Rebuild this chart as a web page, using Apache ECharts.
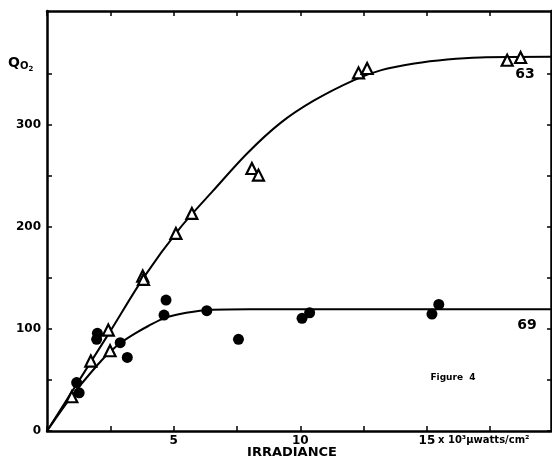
<!DOCTYPE html>
<html>
<head>
<meta charset="utf-8">
<script src="https://cdn.jsdelivr.net/npm/echarts@6/dist/echarts.min.js"></script>
<style>html,body{margin:0;padding:0;background:#fff}#c{width:552px;height:461px}</style>
</head>
<body>
<div id="c"></div>
<script>
// Series 63 (triangles)
var triX = [0.98, 1.73, 2.42, 2.49, 3.78, 3.81, 5.09, 5.72, 8.09, 8.35, 12.3, 12.64, 18.17, 18.7];
var triY = [33.6, 68.6, 99, 78.7, 152, 148.7, 193.8, 213.4, 257.5, 251, 351.3, 355.6, 363.7, 366.4];
// Series 69 (filled circles)
var dotX = [1.17, 1.27, 1.96, 1.99, 2.89, 3.17, 4.62, 4.70, 6.31, 7.56, 10.07, 10.37, 15.2, 15.47];
var dotY = [47.5, 37.5, 89.9, 95.8, 86.6, 72.2, 113.7, 128.4, 118, 89.9, 110.5, 116, 114.7, 124.2];
// Fitted curves
var curve63X = [0, 2.5, 3.8, 5.25, 6.57, 7.89, 9.21, 10.53, 12.1, 13.2, 14.5, 15.8, 17.1, 19.9];
var curve63Y = [0, 98, 150, 199, 236, 272, 302, 324, 344, 354, 360.5, 364.5, 366.5, 367];
var curve69X = [0, 1.0, 2.0, 2.5, 3.0, 3.5, 4.0, 4.66, 5.5, 6.5, 8.0, 19.9];
var curve69Y = [0, 35, 65, 78, 88, 96, 103, 111, 116, 119, 119.5, 119.5];
// Axis ticks and labels
var xTicks = [0, 2.5, 5, 7.5, 10, 12.5, 15, 17.5];
var xLabels = [5, 10, 15];
var yTicks = [0, 50, 100, 150, 200, 250, 300, 350];
var yLabels = [0, 100, 200, 300];

function pairs(xs, ys) { return xs.map(function (x, i) { return [x, ys[i]]; }); }

var FONT = 'DejaVu Sans';
var chart = echarts.init(document.getElementById('c'), null, {renderer: 'canvas'});
var axisLine = {show: true, onZero: false, lineStyle: {color: '#000', width: 2.5}};
chart.setOption({
  backgroundColor: '#fff',
  animation: false,
  grid: {left: 47, right: 1, top: 11, bottom: 30},
  xAxis: [{
    type: 'value', min: 0, max: 19.9, position: 'bottom',
    axisLine: axisLine,
    axisTick: {show: true, inside: true, length: 5, customValues: xTicks, lineStyle: {color: '#000', width: 1.5}},
    axisLabel: {customValues: xLabels, color: '#000', fontFamily: FONT, fontWeight: 'bold', fontSize: 12, margin: 4},
    splitLine: {show: false}
  }, {
    type: 'value', min: 0, max: 19.9, position: 'top',
    axisLine: axisLine,
    axisTick: {show: true, inside: true, length: 5, customValues: xTicks, lineStyle: {color: '#000', width: 1.5}},
    axisLabel: {show: false},
    splitLine: {show: false}
  }],
  yAxis: [{
    type: 'value', min: 0, max: 412, position: 'left',
    axisLine: axisLine,
    axisTick: {show: true, inside: true, length: 5, customValues: yTicks, lineStyle: {color: '#000', width: 1.5}},
    axisLabel: {customValues: yLabels, color: '#000', fontFamily: FONT, fontWeight: 'bold', fontSize: 12, margin: 6},
    splitLine: {show: false}
  }, {
    type: 'value', min: 0, max: 412, position: 'right',
    axisLine: axisLine,
    axisTick: {show: true, inside: true, length: 4, customValues: yTicks, lineStyle: {color: '#000', width: 1.5}},
    axisLabel: {show: false},
    splitLine: {show: false}
  }],
  series: [{
    name: '63 curve', type: 'line', smooth: 0.3, showSymbol: false,
    lineStyle: {color: '#000', width: 2}, data: pairs(curve63X, curve63Y), z: 2
  }, {
    name: '69 curve', type: 'line', smooth: 0.3, showSymbol: false,
    lineStyle: {color: '#000', width: 2}, data: pairs(curve69X, curve69Y), z: 2
  }, {
    name: '63', type: 'scatter', symbol: 'triangle', symbolSize: 11,
    itemStyle: {color: '#fff', borderColor: '#000', borderWidth: 2.2, opacity: 1},
    data: pairs(triX, triY), z: 3
  }, {
    name: '69', type: 'scatter', symbol: 'circle', symbolSize: 11,
    itemStyle: {color: '#000', opacity: 1},
    data: pairs(dotX, dotY), z: 3
  }],
  graphic: [
    {type: 'text', left: 8, top: 56, style: {
      text: '{q|Q}{o|O}{t|2}', rich: {
        q: {fontFamily: FONT, fontWeight: 'bold', fontSize: 14, fill: '#000'},
        o: {fontFamily: FONT, fontWeight: 'bold', fontSize: 10, fill: '#000', padding: [6, 0, 0, 0]},
        t: {fontFamily: FONT, fontWeight: 'bold', fontSize: 7, fill: '#000', padding: [12, 0, 0, 0]}
      }}},
    {type: 'text', x: 525, y: 74, style: {text: '63', fontFamily: FONT, fontWeight: 'bold', fontSize: 14, fill: '#000', align: 'center', verticalAlign: 'middle'}},
    {type: 'text', x: 527, y: 325, style: {text: '69', fontFamily: FONT, fontWeight: 'bold', fontSize: 14, fill: '#000', align: 'center', verticalAlign: 'middle'}},
    {type: 'text', x: 453, y: 378, style: {text: 'Figure  4', fontFamily: FONT, fontWeight: 'bold', fontSize: 9, fill: '#000', align: 'center', verticalAlign: 'middle'}},
    {type: 'text', x: 438, y: 440, style: {text: 'x 10³µwatts/cm²', fontFamily: FONT, fontWeight: 'bold', fontSize: 10, fill: '#000', align: 'left', verticalAlign: 'middle'}},
    {type: 'text', x: 292, y: 453, style: {text: 'IRRADIANCE', fontFamily: FONT, fontWeight: 'bold', fontSize: 13, fill: '#000', align: 'center', verticalAlign: 'middle'}}
  ]
});
</script>
</body>
</html>
